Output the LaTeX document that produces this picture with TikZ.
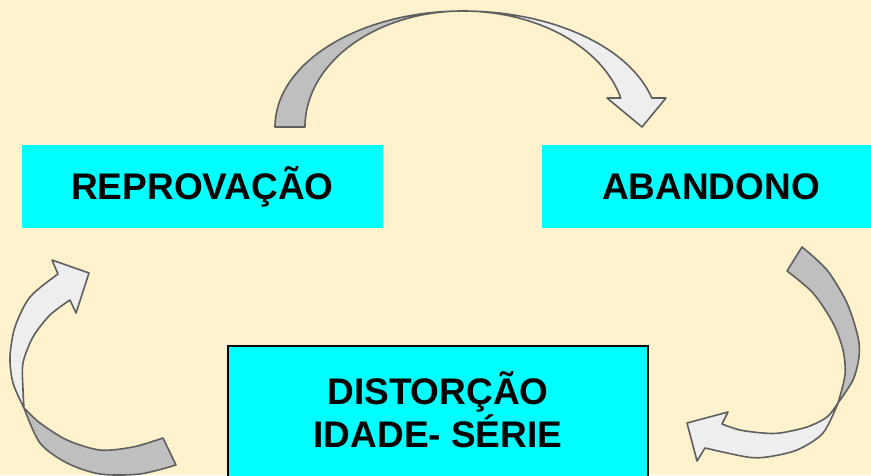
\documentclass[tikz,border=0pt]{standalone}
\usepackage{fontspec}
\setmainfont{Liberation Sans}
\definecolor{bgc}{HTML}{FFF2CC}
\definecolor{cyanbox}{HTML}{00FFFF}
\definecolor{arrdark}{HTML}{BFBFBF}
\definecolor{arrlight}{HTML}{EEEEEE}
\definecolor{arrline}{HTML}{5F5F5F}
\tikzset{
  arrgray/.style={fill=arrdark, draw=arrline, line width=1.6pt, line join=round},
  arrlite/.style={fill=arrlight, draw=arrline, line width=1.6pt, line join=round},
  boxtext/.style={font=\fontsize{37}{43}\selectfont\bfseries, text=black, align=center, inner sep=0pt}
}
\begin{document}
\begin{tikzpicture}[x=1pt,y=-1pt]
\useasboundingbox (0,0) rectangle (871,475);
\clip (0,0) rectangle (871,475);
\fill[bgc] (0,0) rectangle (871,475);

% boxes
\path[fill=cyanbox] (22,145) rectangle (383,228);
\node[boxtext] (rep) at (202.5,186.5) {REPROVAÇÃO};
\path[fill=cyanbox] (542,145) rectangle (880,228);
\node[boxtext] (aba) at (711,186.5) {ABANDONO};
\draw[fill=cyanbox, draw=black, line width=1.5pt] (228,346) rectangle (648,490);
\node[boxtext] (dis) at (438,410) {DISTORÇÃO\\IDADE- SÉRIE};

% top arrow
\draw[arrgray] (275,127) arc[start angle=180,end angle=270,x radius=188,y radius=116]
  arc[start angle=270,end angle=180,x radius=158,y radius=116] -- cycle;
\draw[arrlite] (463,11) arc[start angle=270,end angle=345.5,x radius=195,y radius=116]
  -- (666,98) -- (642,127) -- (607,98) -- (620.8,98)
  arc[start angle=345.5,end angle=270,x radius=163,y radius=116] -- cycle;

% right arrow
\draw[arrgray] (787,271) -- (802,247)
  -- plot[smooth] coordinates {(802,247) (827,270) (847,303) (858,337) (859,357) (853,380) (838,403)}
  -- plot[smooth] coordinates {(838,403) (845,375) (843,350) (833,323) (813,293) (787,271)} -- cycle;
\draw[arrlite] (838,403)
  -- plot[smooth] coordinates {(838,403) (823,433) (797,450) (767,457) (747,457) (705,448)}
  -- (697,461) -- (687,423) -- (728,412) -- (722,424)
  -- plot[smooth] coordinates {(722,424) (740,430) (763,433) (780,433) (807,427) (827,417) (838,403)} -- cycle;

% left arrow
\draw[arrgray] (163,438) -- (176,465)
  -- plot[smooth] coordinates {(176,465) (140,474) (100,474) (67,463) (40,443) (24,408)}
  -- plot[smooth] coordinates {(24,408) (40,423) (67,440) (100,450) (133,447) (163,438)} -- cycle;
\draw[arrlite] (24,408)
  -- plot[smooth] coordinates {(24,408) (13,383) (10,357) (15,327) (30,297) (58,274)}
  -- (52,260) -- (89,273) -- (76,313) -- (70,300)
  -- plot[smooth] coordinates {(70,300) (50,315) (33,337) (23,363) (23,390) (24,408)} -- cycle;
\end{tikzpicture}
\end{document}
